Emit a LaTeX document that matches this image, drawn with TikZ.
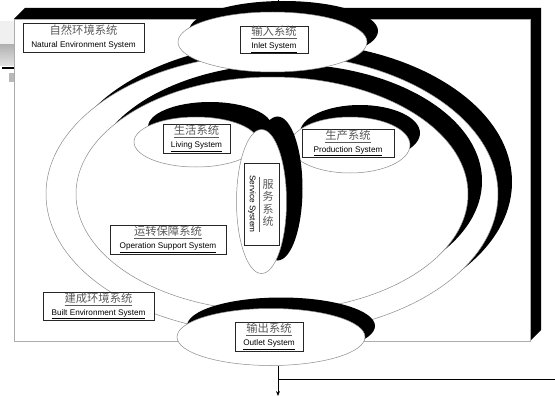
\documentclass[tikz,border=0pt]{standalone}
\usepackage{fontspec}
\setmainfont{Liberation Sans}
\newfontfamily\cjk{Noto Sans CJK SC}
\usetikzlibrary{shapes.geometric,arrows.meta}
\definecolor{cgray}{HTML}{5A5A5A}
\definecolor{egray}{HTML}{8A8A8A}
\newcommand\zhU[1]{{\cjk\fontsize{11.3}{13}\selectfont\color{cgray}\underline{#1}}}
\newcommand\zhN[1]{{\cjk\fontsize{11.3}{13}\selectfont\color{cgray}#1}}
\newcommand\enU[1]{{\fontsize{8.2}{13}\selectfont\underline{#1}}}
\newcommand\enN[1]{{\fontsize{8.2}{13}\selectfont #1}}
\tikzset{
  lbl/.style={draw=black!85, fill=white, line width=0.6pt, inner sep=0pt, align=center,
    font=\fontsize{8.2}{13}\selectfont},
  ring/.style={fill=white, draw=egray, line width=0.5pt},
  shad/.style={fill=black},
  ellnode/.style={ellipse, inner sep=0pt, fill=white, draw=egray, line width=0.5pt},
  shadnode/.style={ellipse, inner sep=0pt, fill=black},
  conn/.style={line width=0.9pt, black}
}
\begin{document}
\begin{tikzpicture}[x=1pt,y=-1pt]
\useasboundingbox (0,0) rectangle (555,396);
\fill[white] (0,0) rectangle (555,396);
% left decoration
\fill[gray!12] (0,21) rectangle (14,45);
\shade[top color=gray!60,bottom color=gray!22] (0,45) rectangle (14,66);
\draw[line width=1.6pt] (2,68) -- (13.5,68);
\fill[gray!55] (9,73) rectangle (13.5,82);
% 3D box
\fill[black] (14,19) -- (25,8) -- (541,8) -- (541,330) -- (530,341) -- (530,19) -- cycle;
\draw[gray!65, line width=0.8pt, fill=white] (14,19) rectangle (530,341);
% outer ring
\fill[shad] (286,182) ellipse [x radius=226pt, y radius=140pt];
\path[ring] (272,194) ellipse [x radius=226pt, y radius=140pt];
% inner ring
\fill[shad] (286,181) ellipse [x radius=196pt, y radius=117pt];
\path[ring] (272,194) ellipse [x radius=196pt, y radius=117pt];
% living
\fill[shad] (210,127) ellipse [x radius=62pt, y radius=25pt];
\path[ring] (196,142) ellipse [x radius=62pt, y radius=25pt];
% production
\fill[shad] (360,133) ellipse [x radius=60pt, y radius=28pt];
\path[ring] (350,145) ellipse [x radius=60pt, y radius=28pt];
% service
\fill[shad] (277.5,188.5) ellipse [x radius=25pt, y radius=72pt];
\path[ring] (261.5,201.5) ellipse [x radius=25pt, y radius=72pt];
% inlet / outlet
\node[shadnode, minimum width=189pt, minimum height=60pt] (inlets) at (283.5,31) {};
\node[ellnode, minimum width=189pt, minimum height=60pt] (inlet) at (272.5,42) {};
\node[shadnode, minimum width=188pt, minimum height=57pt] (outlets) at (281,326) {};
\node[ellnode, minimum width=188pt, minimum height=57pt] (outlet) at (271,337) {};
% labels
\node[lbl, minimum width=121pt, minimum height=29pt] (natural) at (83.5,37.5)
  {\zhN{自然环境系统}\\\enN{Natural Environment System}};
\node[lbl, minimum width=68pt, minimum height=27pt] (inletl) at (274,39.5)
  {\zhU{输入系统}\\\enU{Inlet System}};
\node[lbl, minimum width=67pt, minimum height=29pt] (living) at (196.5,138.5)
  {\zhU{生活系统}\\\enU{Living System}};
\node[lbl, minimum width=92pt, minimum height=28pt] (production) at (348,143)
  {\zhU{生产系统}\\\enU{Production System}};
\node[lbl, minimum width=35pt, minimum height=82pt] (service) at (261.5,204) {};
\node[rotate=-90, inner sep=0pt, font=\fontsize{8.2}{10}\selectfont] (servicee) at (252,204) {Service System};
\node[align=center, inner sep=0pt, font=\cjk\fontsize{11}{12.5}\selectfont, text=cgray] (servicez) at (268,203) {服\\务\\系\\统};
\draw[cgray, line width=0.5pt] (service.north) ++(-2.5,14) -- ++(0,55);
\node[lbl, minimum width=116pt, minimum height=29pt] (operation) at (168,239.5)
  {\zhU{运转保障系统}\\\enU{Operation Support System}};
\node[lbl, minimum width=111pt, minimum height=28pt] (built) at (98.5,306)
  {\zhU{建成环境系统}\\\enU{Built Environment System}};
\node[lbl, minimum width=68pt, minimum height=29pt] (outletl) at (269,336.5)
  {\zhU{输出系统}\\\enU{Outlet System}};
% connectors
\coordinate (topin) at (278,-6);
\draw[conn, -{Stealth[length=5pt,width=4pt]}, shorten >=4pt] (topin) -- (topin |- inlet.north);
\coordinate (outend) at (278,396);
\draw[conn, -{Stealth[length=5pt,width=4pt]}] (outend |- outlet.south) -- (outend);
\coordinate (hright) at (556,379);
\draw[conn] (outend |- hright) -- (hright);
\end{tikzpicture}
\end{document}
